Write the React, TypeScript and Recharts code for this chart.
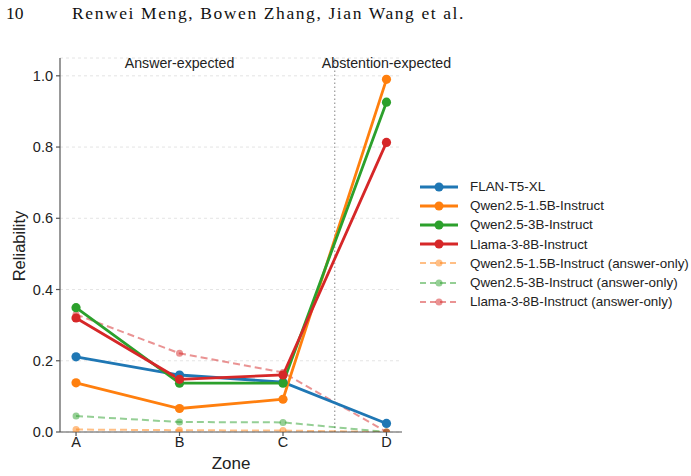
import { LineChart, Line, XAxis, YAxis, CartesianGrid, ReferenceLine, ReferenceDot } from 'recharts'

const zones = ['A', 'B', 'C', 'D']
const yTicks = [0, 0.2, 0.4, 0.6, 0.8, 1.0]

const flanT5 = [0.211, 0.16, 0.14, 0.024]
const qwen15 = [0.138, 0.066, 0.092, 0.99]
const qwen3 = [0.349, 0.137, 0.137, 0.926]
const llama8 = [0.32, 0.148, 0.16, 0.813]
const qwen15Ans = [0.007, 0.005, 0.004, 0.0]
const qwen3Ans = [0.045, 0.028, 0.027, 0.0]
const llama8Ans = [0.33, 0.221, 0.167, 0.0]

const BLUE = '#1f77b4'
const ORANGE = '#ff7f0e'
const GREEN = '#2ca02c'
const RED = '#d62728'
const FONT = '"Liberation Sans", Arial, sans-serif'

const data = zones.map((zone, i) => ({
  x: i,
  zone,
  flanT5: flanT5[i],
  qwen15: qwen15[i],
  qwen3: qwen3[i],
  llama8: llama8[i],
  qwen15Ans: qwen15Ans[i],
  qwen3Ans: qwen3Ans[i],
  llama8Ans: llama8Ans[i],
}))

const solidSeries = [
  { key: 'flanT5', name: 'FLAN-T5-XL', color: BLUE },
  { key: 'qwen15', name: 'Qwen2.5-1.5B-Instruct', color: ORANGE },
  { key: 'qwen3', name: 'Qwen2.5-3B-Instruct', color: GREEN },
  { key: 'llama8', name: 'Llama-3-8B-Instruct', color: RED },
]

const dashedSeries = [
  { key: 'qwen15Ans', name: 'Qwen2.5-1.5B-Instruct (answer-only)', color: ORANGE },
  { key: 'qwen3Ans', name: 'Qwen2.5-3B-Instruct (answer-only)', color: GREEN },
  { key: 'llama8Ans', name: 'Llama-3-8B-Instruct (answer-only)', color: RED },
]

const axisLine = { stroke: '#555', strokeWidth: 1.2 }
const tick = { fill: '#222', fontSize: 14.5, fontFamily: FONT }
const zoneLabel = { fontSize: 14.2, fontFamily: FONT, fill: '#222' }

function LegendBox() {
  const rows = [
    ...solidSeries.map(s => ({ ...s, dashed: false })),
    ...dashedSeries.map(s => ({ ...s, dashed: true })),
  ]
  return (
    <div style={{ position: 'absolute', left: 419, top: 177, fontFamily: FONT, fontSize: 13.4, color: '#222' }}>
      {rows.map(r => (
        <div key={r.key} style={{ display: 'flex', alignItems: 'center', height: 19.2, whiteSpace: 'nowrap' }}>
          <svg width={40} height={12} style={{ marginRight: 11 }}>
            <line
              x1={1} y1={6} x2={39} y2={6}
              stroke={r.color}
              strokeWidth={r.dashed ? 2 : 2.8}
              strokeOpacity={r.dashed ? 0.5 : 1}
              strokeDasharray={r.dashed ? '6 4' : undefined}
            />
            <circle cx={20} cy={6} r={r.dashed ? 3.5 : 4.5} fill={r.color} fillOpacity={r.dashed ? 0.5 : 1} />
          </svg>
          <span>{r.name}</span>
        </div>
      ))}
    </div>
  )
}

export default function App() {
  return (
    <div style={{ position: 'absolute', left: 0, top: 0, width: 691, height: 476, background: '#fff' }}>
      <div style={{ position: 'absolute', left: 6, top: 3, fontFamily: '"Liberation Serif", "DejaVu Serif", serif', fontSize: 17.5, color: '#111', whiteSpace: 'nowrap' }}>
        <span>10</span>
        <span style={{ position: 'absolute', left: 66, letterSpacing: 1.6 }}>Renwei Meng, Bowen Zhang, Jian Wang et al.</span>
      </div>
      <LineChart width={691} height={476} data={data} margin={{ top: 58, right: 289, left: 0, bottom: 14 }}>
        <CartesianGrid vertical={false} stroke="#ddd" strokeDasharray="3 3" strokeWidth={0.8} />
        <XAxis
          dataKey="x"
          type="number"
          domain={[-0.155, 3.15]}
          ticks={[0, 1, 2, 3]}
          tickFormatter={(v: number) => zones[v]}
          allowDataOverflow
          height={30}
          axisLine={axisLine}
          tickLine={axisLine}
          tickSize={4}
          tickMargin={1}
          tick={tick}
          label={{
            content: () => (
              <text x={231} y={469} textAnchor="middle" fontSize={17} fontFamily={FONT} fill="#222">Zone</text>
            ),
          }}
        />
        <YAxis
          type="number"
          domain={[0, 1.05]}
          ticks={yTicks}
          tickFormatter={(v: number) => v.toFixed(1)}
          allowDataOverflow
          width={60}
          axisLine={axisLine}
          tickLine={axisLine}
          tickSize={4}
          tickMargin={3}
          tick={tick}
          label={{
            content: () => (
              <text x={0} y={0} transform="translate(25 246) rotate(-90)" textAnchor="middle" fontSize={16.5} fontFamily={FONT} fill="#222">Reliability</text>
            ),
          }}
        />
        <ReferenceLine x={2.5} stroke="#999" strokeWidth={1.2} strokeDasharray="1.5 2.5" />
        <ReferenceDot
          x={1}
          y={1.05}
          r={0}
          label={{ value: 'Answer-expected', position: 'bottom', offset: 0, ...zoneLabel }}
        />
        <ReferenceDot
          x={3}
          y={1.05}
          r={0}
          label={{ value: 'Abstention-expected', position: 'bottom', offset: 0, ...zoneLabel }}
        />
        {dashedSeries.map(s => (
          <Line
            key={s.key}
            dataKey={s.key}
            name={s.name}
            stroke={s.color}
            strokeOpacity={0.5}
            strokeWidth={2}
            strokeDasharray="7 4"
            dot={{ r: 3.5, fill: s.color, fillOpacity: 0.5, strokeWidth: 0 }}
            activeDot={false}
            isAnimationActive={false}
          />
        ))}
        {solidSeries.map(s => (
          <Line
            key={s.key}
            dataKey={s.key}
            name={s.name}
            stroke={s.color}
            strokeWidth={2.8}
            dot={{ r: 4.6, fill: s.color, strokeWidth: 0 }}
            activeDot={false}
            isAnimationActive={false}
          />
        ))}
      </LineChart>
      <LegendBox />
    </div>
  )
}
